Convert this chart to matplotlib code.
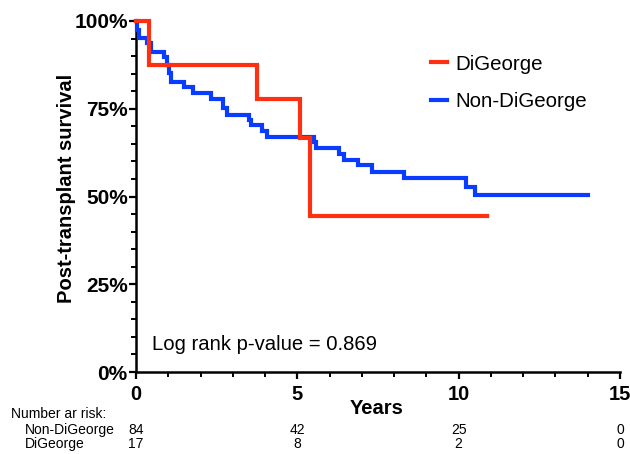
import matplotlib
matplotlib.use("Agg")
import matplotlib.pyplot as plt
from matplotlib.lines import Line2D
from matplotlib.transforms import blended_transform_factory
from matplotlib.ticker import MultipleLocator, FuncFormatter

plt.rcParams['font.family'] = ['Liberation Sans', 'DejaVu Sans']

# ---- data ----
non_dg_time = [0, 0.03, 0.10, 0.35, 0.45, 0.88, 0.95, 1.03, 1.07, 1.50, 1.76,
               2.32, 2.69, 2.82, 3.51, 3.55, 3.89, 4.07, 5.52, 5.58, 6.30,
               6.46, 6.89, 7.30, 8.32, 10.23, 10.51, 14.0]
non_dg_surv = [100, 97.4, 95.1, 93.6, 91.3, 89.8, 87.5, 85.1, 82.7, 81.1, 79.5,
               77.9, 75.1, 73.3, 71.7, 70.3, 68.7, 67.0, 65.5, 63.8, 62.1,
               60.5, 59.0, 57.1, 55.3, 52.8, 50.3, 50.3]

dg_time = [0, 0.40, 3.74, 5.09, 5.39, 10.89]
dg_surv = [100, 87.4, 77.7, 66.7, 44.4, 44.4]

risk_times = [0, 5, 10, 15]
risk_non_dg = [84, 42, 25, 0]
risk_dg = [17, 8, 2, 0]

x_ticks = [0, 5, 10, 15]
y_ticks = [0, 25, 50, 75, 100]

red = '#ff2f12'
blue = '#0a3cff'

W, H = 630, 454
fig = plt.figure(figsize=(W / 100, H / 100), dpi=100)
ax = fig.add_axes([136 / W, 1 - 372 / H, (620 - 136) / W, (372 - 21) / H])

ax.step(non_dg_time, non_dg_surv, where='post', color=blue, lw=3, clip_on=False,
        solid_joinstyle='miter', zorder=3)
ax.step(dg_time, dg_surv, where='post', color=red, lw=3, clip_on=False,
        solid_joinstyle='miter', zorder=4)

ax.set_xlim(0, 15)
ax.set_ylim(0, 100)
for s in ['top', 'right']:
    ax.spines[s].set_visible(False)
for s in ['left', 'bottom']:
    ax.spines[s].set_linewidth(1.8)

ax.set_xticks(x_ticks)
ax.set_yticks(y_ticks)
ax.xaxis.set_minor_locator(MultipleLocator(1))
ax.yaxis.set_minor_locator(MultipleLocator(5))
ax.yaxis.set_major_formatter(FuncFormatter(lambda v, p: f"{int(v)}%"))
ax.tick_params(which='major', length=5, width=1.6, direction='out')
ax.tick_params(which='minor', length=3.5, width=1.4, direction='out')
ax.tick_params(axis='y', which='major', pad=1, labelsize=15)
ax.tick_params(axis='x', which='major', pad=4, labelsize=14.5)
for lab in ax.get_xticklabels() + ax.get_yticklabels():
    lab.set_fontweight('bold')

fig.text(67 / W, 1 - 188 / H, 'Post-transplant survival', fontsize=14.5,
         fontweight='bold', rotation=90, ha='center', va='center')
fig.text(377 / W, 1 - 408 / H, 'Years', fontsize=14.5, fontweight='bold',
         ha='center', va='center')

handles = [Line2D([], [], color=red, lw=3), Line2D([], [], color=blue, lw=3)]
ax.legend(handles, ['DiGeorge', 'Non-DiGeorge'], frameon=False, fontsize=14.8,
          handlelength=0.8, handletextpad=0.4, labelspacing=0.92,
          loc='center left', bbox_to_anchor=(412 / W, 1 - 83 / H),
          bbox_transform=fig.transFigure)

fig.text(152 / W, 1 - 344 / H, 'Log rank p-value = 0.869', fontsize=14.6,
         va='center', ha='left')

# number at risk table
fs = 10
fig.text(11 / W, 1 - 414 / H, 'Number ar risk:', fontsize=fs, va='center', ha='left')
fig.text(25 / W, 1 - 430 / H, 'Non-DiGeorge', fontsize=fs, va='center', ha='left')
fig.text(25 / W, 1 - 444 / H, 'DiGeorge', fontsize=fs, va='center', ha='left')
tr = blended_transform_factory(ax.transData, fig.transFigure)
for t, n in zip(risk_times, risk_non_dg):
    fig.text(t, 1 - 430 / H, str(n), transform=tr, fontsize=fs, ha='center', va='center')
for t, n in zip(risk_times, risk_dg):
    fig.text(t, 1 - 444 / H, str(n), transform=tr, fontsize=fs, ha='center', va='center')

fig.savefig('out.png', dpi=100)
